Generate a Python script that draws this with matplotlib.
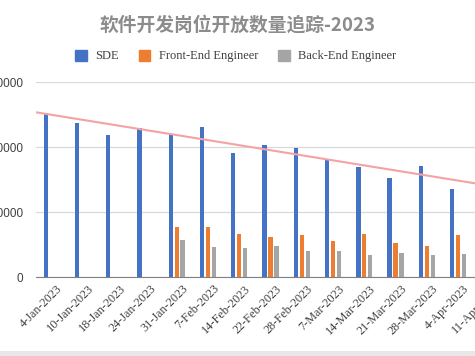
import matplotlib
matplotlib.use("Agg")
import matplotlib.pyplot as plt
from matplotlib.patches import Patch, Rectangle
import matplotlib.transforms as mtransforms
import numpy as np

dates = ["4-Jan-2023", "10-Jan-2023", "18-Jan-2023", "24-Jan-2023", "31-Jan-2023",
         "7-Feb-2023", "14-Feb-2023", "22-Feb-2023", "28-Feb-2023", "7-Mar-2023",
         "14-Mar-2023", "21-Mar-2023", "28-Mar-2023", "4-Apr-2023", "11-Apr-2023"]
sde = [25200, 23700, 21900, 23000, 21900, 23100, 19100, 20300, 19900, 18000,
       17000, 15200, 17100, 13600, 14000]
front_end = [0, 0, 0, 0, 7750, 7750, 6600, 6200, 6500, 5500,
             6700, 5200, 4700, 6400, 5500]
back_end = [0, 0, 0, 0, 5700, 4600, 4500, 4700, 4050, 4050,
            3450, 3750, 3450, 3600, 3500]

c_sde = "#4472C4"
c_fe = "#ED7D31"
c_be = "#A5A5A5"

fig = plt.figure(figsize=(4.75, 3.56), dpi=100)
ax = fig.add_axes([36 / 475, 1 - 277 / 356, (505 - 36) / 475, (277 - 82.3) / 356])

x = np.arange(len(dates))
w = 0.14
off = 0.19
ax.bar(x - off, sde, w, color=c_sde, zorder=3)
ax.bar(x, front_end, w, color=c_fe, zorder=3)
ax.bar(x + off, back_end, w, color=c_be, zorder=3)

# linear trendline for SDE
k, b = np.polyfit(x, sde, 1)
tx = np.array([-0.5, len(dates) - 0.5])
ax.plot(tx, k * tx + b, color="#F4A3A3", lw=1.5, zorder=4)

ax.set_xlim(-0.5, len(dates) - 0.5)
ax.set_ylim(0, 30000)
ax.set_yticks([0, 10000, 20000, 30000])
ax.yaxis.grid(True, color="#D9D9D9", lw=0.9, zorder=0)
for s in ["top", "right", "left"]:
    ax.spines[s].set_visible(False)
ax.spines["bottom"].set_color("#808080")
ax.tick_params(axis="y", length=0, pad=9, labelsize=8.5, labelcolor="#404040")
ax.tick_params(axis="x", length=0, pad=2)
ax.set_xticks(x)
ax.set_xticklabels(dates, rotation=45, ha="right", rotation_mode="anchor",
                   family="Liberation Serif", fontsize=8.8, color="#404040")
shift = mtransforms.ScaledTranslation(5 / 100, -3 / 100, fig.dpi_scale_trans)
for lab in ax.get_xticklabels():
    lab.set_transform(lab.get_transform() + shift)
for lab in ax.get_yticklabels():
    lab.set_family("Liberation Sans")

fig.text(0.5, 1 - 25 / 356, "软件开发岗位开放数量追踪-2023", ha="center", va="center",
         fontsize=13.5, fontweight="bold", color="#8C8C8C",
         family=["Noto Sans CJK SC", "DejaVu Sans"])

handles = [Patch(color=c_sde), Patch(color=c_fe), Patch(color=c_be)]
fig.legend(handles, ["SDE", "Front-End Engineer", "Back-End Engineer"],
           loc="center", bbox_to_anchor=(236 / 475, 1 - 56 / 356), ncol=3,
           frameon=False, prop={"family": "Liberation Serif", "size": 9},
           handlelength=0.9, handleheight=1.0, columnspacing=1.6, handletextpad=0.7,
           labelcolor="#404040")

fig.add_artist(Rectangle((0, 0), 1, 5 / 356, transform=fig.transFigure,
                         color="#E8E8E8", lw=0))

fig.savefig("out.png", dpi=100)
